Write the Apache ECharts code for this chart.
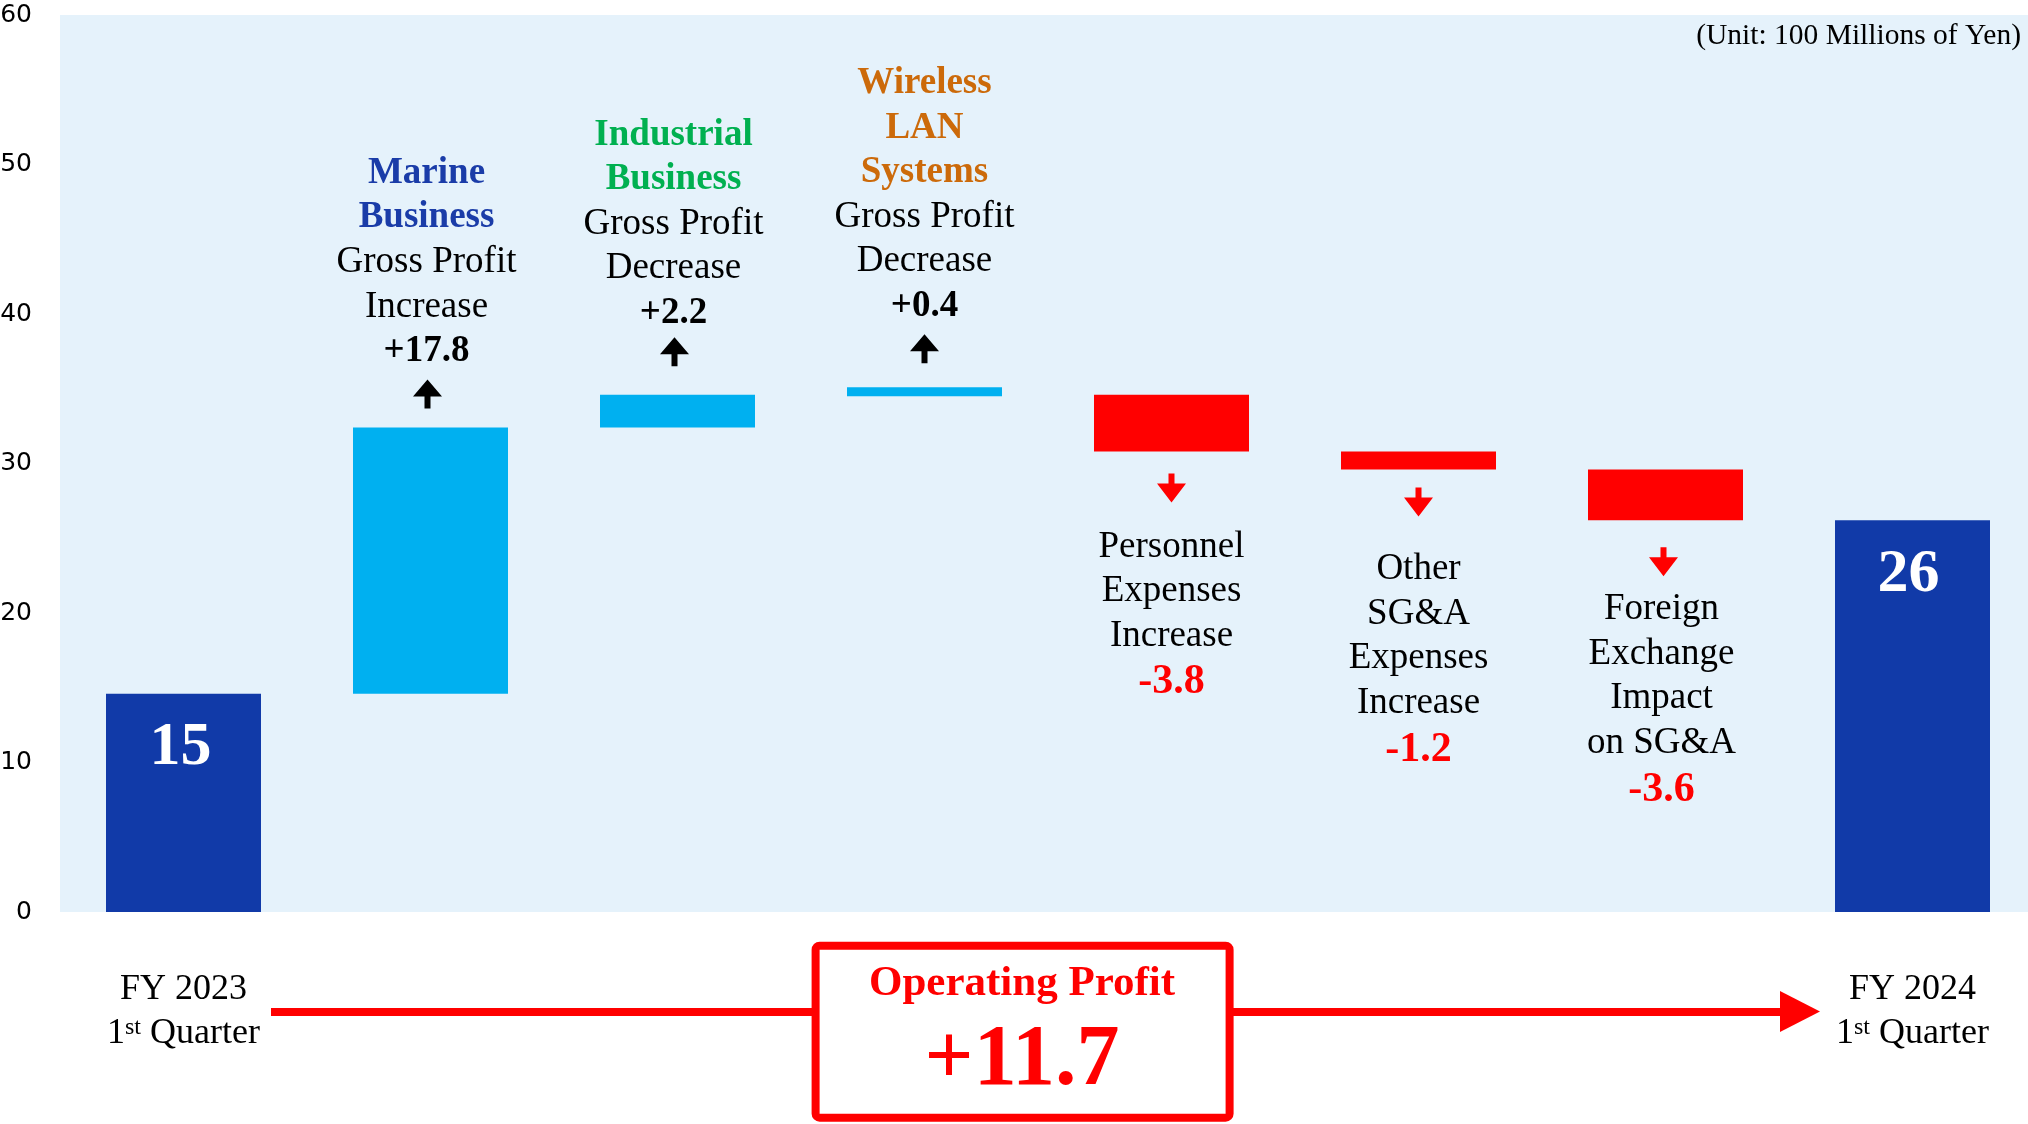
<!DOCTYPE html>
<html>
<head>
<meta charset="utf-8">
<script src="https://cdn.jsdelivr.net/npm/echarts@6/dist/echarts.min.js"></script>
<style>
  html, body { margin: 0; padding: 0; background: #fff; }
  #chart { width: 2028px; height: 1124px; }
</style>
</head>
<body>
<div id="chart"></div>
<script>
// Waterfall categories
const categories = ['FY 2023 1st Quarter', 'Marine Business', 'Industrial Business', 'Wireless LAN Systems',
  'Personnel Expenses', 'Other SG&A Expenses', 'Foreign Exchange Impact', 'FY 2024 1st Quarter'];
// bottom / top of each bar (100 millions of yen)
const barLow = [0, 14.6, 32.4, 34.5, 30.8, 29.6, 26.2, 0];
const barHigh = [14.6, 32.4, 34.6, 35.1, 34.6, 30.8, 29.6, 26.2];
const barKind = ['total', 'up', 'up', 'up', 'down', 'down', 'down', 'total'];
// printed figures and captions
const valueLabels = ['15', '+17.8', '+2.2', '+0.4', '-3.8', '-1.2', '-3.6', '26'];
const segmentTitles = [[], ['Marine', 'Business'], ['Industrial', 'Business'], ['Wireless', 'LAN', 'Systems'], [], [], [], []];
const segmentTexts = [[], ['Gross Profit', 'Increase'], ['Gross Profit', 'Decrease'], ['Gross Profit', 'Decrease'],
  ['Personnel', 'Expenses', 'Increase'], ['Other', 'SG&A', 'Expenses', 'Increase'],
  ['Foreign', 'Exchange', 'Impact', 'on SG&A'], []];
const xTickLabels = ['FY 2023\n1st Quarter', '', '', '', '', '', '', 'FY 2024\n1st Quarter'];
const unitText = '(Unit: 100 Millions of Yen)';
const summaryTitle = 'Operating Profit';
const summaryValue = '+11.7';

// styling
const SERIF = 'Liberation Serif';
const barColors = { total: '#113AA8', up: '#00B0F0', down: '#FF0000' };
const titleStyle = ['', 'marine', 'industrial', 'wireless', '', '', '', ''];
const labelGap = [23, 54, 59.5, 59, 73, 78, 67, 24];
const labelDx = [-3, -4, -4, 0, 0, 0, -4, -4];
const arrowOffset = [0, -33.5, -43, -38.5, 36.5, 32.5, 41.5, 0];
const arrowDx = [0, -3, -3, 0, 0, 0, -2, 0];
const upArrow = 'path://M14.5,0 L29,17 L17.5,17 L17.5,29 L11.5,29 L11.5,17 L0,17 Z';
const downArrow = 'path://M11.5,0 L17.5,0 L17.5,10 L29,10 L14.5,29 L0,10 L11.5,10 Z';

const txt = (extra) => Object.assign({ fontFamily: SERIF, fontSize: 37, lineHeight: 44.5, color: '#000' }, extra);
const rich = {
  marine: txt({ color: '#1A3CA8', fontWeight: 'bold' }),
  industrial: txt({ color: '#00B050', fontWeight: 'bold' }),
  wireless: txt({ color: '#CC6A0A', fontWeight: 'bold' }),
  txt: txt({}),
  plus: txt({ fontWeight: 'bold' }),
  minus: txt({ color: '#FF0000', fontWeight: 'bold', fontSize: 42, lineHeight: 49 })
};

function blockText(i) {
  const lines = [];
  segmentTitles[i].forEach(t => lines.push('{' + titleStyle[i] + '|' + t + '}'));
  segmentTexts[i].forEach(t => lines.push('{txt|' + t + '}'));
  lines.push('{' + (barKind[i] === 'up' ? 'plus' : 'minus') + '|' + valueLabels[i] + '}');
  return lines.join('\n');
}

const deltaData = barHigh.map((h, i) => {
  const kind = barKind[i];
  let label;
  if (kind === 'total') {
    label = {
      show: true, position: 'insideTop', distance: labelGap[i], offset: [labelDx[i], 0],
      formatter: valueLabels[i],
      color: '#fff', fontFamily: SERIF, fontWeight: 'bold', fontSize: 62, lineHeight: 62
    };
  } else {
    label = {
      show: true, position: kind === 'up' ? 'top' : 'bottom', distance: labelGap[i],
      offset: [labelDx[i], 0],
      formatter: blockText(i), rich: rich, align: 'center'
    };
  }
  return { value: +(h - barLow[i]).toFixed(2), itemStyle: { color: barColors[kind] }, label: label };
});

const arrowMarks = [];
barKind.forEach((kind, i) => {
  if (kind === 'total') return;
  arrowMarks.push({
    coord: [i, kind === 'up' ? barHigh[i] : barLow[i]],
    symbol: kind === 'up' ? upArrow : downArrow,
    symbolSize: [29, 29],
    symbolOffset: [arrowDx[i], arrowOffset[i]],
    itemStyle: { color: kind === 'up' ? '#000' : '#FF0000' }
  });
});

const chart = echarts.init(document.getElementById('chart'));
chart.setOption({
  animation: false,
  grid: {
    left: 60, top: 15, width: 1976, height: 897,
    show: true, backgroundColor: '#E5F2FB', borderWidth: 0,
    containLabel: false, outerBoundsMode: 'none'
  },
  xAxis: {
    type: 'category',
    data: categories,
    axisLine: { show: false },
    axisTick: { show: false },
    axisLabel: {
      interval: 0, margin: 55,
      formatter: (v, i) => xTickLabels[i].split('\n').map(l =>
        l.replace(/^(\d)(st)(.*)$/, '{n|$1}{s|$2}{n|$3}').replace(/^([^{].*)$/, '{n|$1}')).join('\n'),
      rich: {
        n: { fontFamily: SERIF, fontSize: 36, lineHeight: 44.4, color: '#000' },
        s: { fontFamily: SERIF, fontSize: 24, color: '#000', padding: [0, 0, 11, 0] }
      }
    }
  },
  yAxis: {
    type: 'value', min: 0, max: 60, interval: 10,
    axisLine: { show: false }, axisTick: { show: false }, splitLine: { show: false },
    axisLabel: { color: '#000', fontFamily: 'DejaVu Sans', fontSize: 25, margin: 28, padding: [6, 0, 0, 0] }
  },
  series: [
    {
      type: 'bar', stack: 'w', barWidth: 155, silent: true,
      itemStyle: { color: 'transparent' },
      data: barLow
    },
    {
      type: 'bar', stack: 'w', barWidth: 155,
      data: deltaData,
      markPoint: { silent: true, label: { show: false }, data: arrowMarks }
    }
  ],
  graphic: [
    {
      type: 'text', x: 2021, y: 36.5, z: 10,
      style: { text: unitText, font: '29.5px "Liberation Serif"', fill: '#000',
        align: 'right', verticalAlign: 'middle', textAlign: 'right', textVerticalAlign: 'middle' }
    },
    {
      type: 'line', z: 10,
      shape: { x1: 271, y1: 1012, x2: 1782, y2: 1012 },
      style: { stroke: '#FF0000', lineWidth: 8 }
    },
    {
      type: 'polygon', z: 10,
      shape: { points: [[1780, 991], [1820, 1011.5], [1780, 1032]] },
      style: { fill: '#FF0000' }
    },
    {
      type: 'rect', z: 11,
      shape: { x: 815.6, y: 945.7, width: 414, height: 172, r: 4 },
      style: { fill: '#fff', stroke: '#FF0000', lineWidth: 8 }
    },
    {
      type: 'text', x: 1022, y: 983.5, z: 12,
      style: { text: summaryTitle, font: 'bold 43px "Liberation Serif"', fill: '#FF0000',
        align: 'center', verticalAlign: 'middle', textAlign: 'center', textVerticalAlign: 'middle' }
    },
    {
      type: 'text', x: 1022, y: 1062, z: 12,
      style: { text: summaryValue, font: 'bold 86px "Liberation Serif"', fill: '#FF0000',
        align: 'center', verticalAlign: 'middle', textAlign: 'center', textVerticalAlign: 'middle' }
    }
  ]
});
</script>
</body>
</html>
